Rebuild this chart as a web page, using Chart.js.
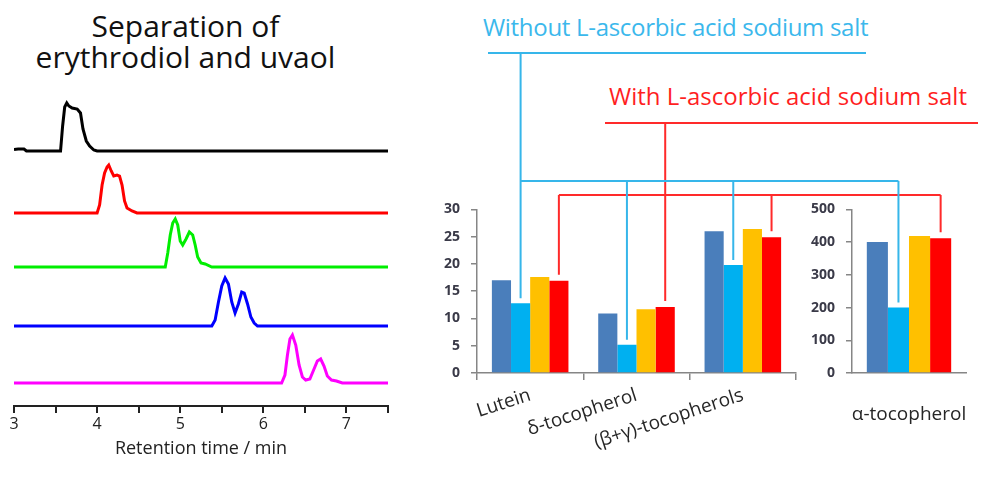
<!DOCTYPE html>
<html>
<head>
<meta charset="utf-8">
<script src="https://cdn.jsdelivr.net/npm/chart.js@4.4.1/dist/chart.umd.min.js"></script>
<style>
  body { margin: 0; background: #fff; }
  #page { position: relative; width: 981px; height: 481px; overflow: hidden; font-family: 'Open Sans', sans-serif; }
  #page canvas, #page .txt { position: absolute; }
  .txt { white-space: nowrap; }
</style>
</head>
<body>
<div id="page">
  <div class="txt" style="left:0; width:371px; top:10px; text-align:center; font-size:30px; line-height:31px; color:#111;">Separation of<br>erythrodiol and uvaol</div>
  <div class="txt" style="left:483px; top:12px; font-size:24px; line-height:30px; letter-spacing:-0.3px; color:#3bb8ec;">Without L-ascorbic acid sodium salt</div>
  <div class="txt" style="left:609px; top:81px; font-size:24px; line-height:30px; color:#ff1f1f;">With L-ascorbic acid sodium salt</div>

  <canvas id="chrom" width="400" height="376" style="left:0; top:90px;"></canvas>
  <canvas id="barsL" width="390" height="290" style="left:420px; top:190px;"></canvas>
  <canvas id="barsR" width="181" height="290" style="left:800px; top:190px;"></canvas>
  <canvas id="brackets" width="981" height="481" style="left:0; top:0;"></canvas>
</div>
<script>
// chromatograms: retention time (min) and signal above baseline, one trace per standard
var timesBlack   = [3.0, 3.05, 3.12, 3.15, 3.56, 3.585, 3.61, 3.635, 3.66, 3.70, 3.76, 3.80, 3.83, 3.87, 3.91, 3.96, 4.0, 7.5];
var signalBlack  = [1.5, 2, 2, 0, 0, 25, 44, 48, 45, 43, 42, 38, 22, 10, 5, 1, 0, 0];
var timesRed     = [3.0, 4.0, 4.03, 4.06, 4.09, 4.12, 4.14, 4.17, 4.20, 4.24, 4.27, 4.30, 4.33, 4.36, 4.42, 4.48, 7.5];
var signalRed    = [0, 0, 8, 28, 40, 46, 48, 42, 37, 38, 37, 28, 12, 5, 2, 0, 0];
var timesGreen   = [3.0, 4.82, 4.85, 4.88, 4.91, 4.94, 4.97, 5.00, 5.03, 5.07, 5.11, 5.15, 5.18, 5.21, 5.25, 5.30, 5.38, 7.5];
var signalGreen  = [0, 0, 14, 32, 44, 48, 42, 26, 22, 28, 35, 32, 22, 10, 4, 3, 0, 0];
var timesBlue    = [3.0, 5.38, 5.42, 5.46, 5.50, 5.54, 5.58, 5.62, 5.66, 5.70, 5.74, 5.77, 5.81, 5.85, 5.89, 5.93, 7.5];
var signalBlue   = [0, 0, 6, 24, 40, 48, 42, 24, 13, 22, 34, 33, 22, 9, 3, 0, 0];
var timesPink    = [3.0, 6.22, 6.26, 6.29, 6.32, 6.35, 6.39, 6.43, 6.47, 6.51, 6.56, 6.61, 6.65, 6.69, 6.73, 6.77, 6.82, 6.88, 6.95, 7.5];
var signalPink   = [0, 0, 8, 28, 44, 48, 38, 18, 6, 3, 4, 14, 22, 24, 17, 7, 3, 2, 0, 0];
var traceOffsets = [255, 193, 139, 80, 23];   // black, red, green, blue, magenta
var timeTicks    = [3, 4, 5, 6, 7];

// bar charts
var compounds    = ['Lutein', 'δ-tocopherol', '(β+γ)-tocopherols'];
var series1      = [17.0, 10.9, 26.0];
var series2      = [12.8, 5.2, 19.8];   // without L-ascorbic acid sodium salt
var series3      = [17.6, 11.7, 26.4];
var series4      = [16.9, 12.1, 24.9];  // with L-ascorbic acid sodium salt
var alphaLabel   = ['α-tocopherol'];
var alphaValues  = [400, 200, 419, 412];

var barColors = ['#4a7ebb', '#00b0f0', '#ffc000', '#ff0000'];

Chart.defaults.font.family = "'Open Sans', sans-serif";
Chart.defaults.animation = false;

function trace(times, signal, offset) {
    return times.map(function(t, i) { return { x: t, y: signal[i] + offset }; });
}

new Chart('chrom', {
    type: 'line',
    data: {
        datasets: [
            { data: trace(timesBlack, signalBlack, traceOffsets[0]), borderColor: '#000000' },
            { data: trace(timesRed, signalRed, traceOffsets[1]), borderColor: '#ff0000' },
            { data: trace(timesGreen, signalGreen, traceOffsets[2]), borderColor: '#00ee00' },
            { data: trace(timesBlue, signalBlue, traceOffsets[3]), borderColor: '#0000ff' },
            { data: trace(timesPink, signalPink, traceOffsets[4]), borderColor: '#ff00ff' }
        ]
    },
    options: {
        responsive: false,
        layout: { padding: { left: 14, right: 12, top: 0, bottom: 0 } },
        elements: { point: { radius: 0 }, line: { borderWidth: 3, tension: 0 } },
        plugins: { legend: { display: false }, tooltip: { enabled: false } },
        scales: {
            y: { display: false, min: 0, max: 316 },
            x: {
                type: 'linear', min: 3, max: 7.5,
                afterFit: function(s) { s.height = 60; },
                ticks: {
                    stepSize: 0.5, autoSkip: false, maxRotation: 0, padding: 2,
                    color: '#222', font: { size: 16 },
                    callback: function(v) { return timeTicks.indexOf(v) >= 0 ? v : ''; }
                },
                grid: { drawOnChartArea: false, tickLength: 7, color: '#222', lineWidth: 2 },
                border: { color: '#222', width: 2 },
                title: { display: true, text: 'Retention time / min', color: '#222', font: { size: 18 }, padding: { top: 2, bottom: 6 } }
            }
        }
    }
});

function barDatasets(values, catPct) {
    return values.map(function(v, i) {
        return { label: 'Series ' + (i + 1), data: v, backgroundColor: barColors[i], borderWidth: 0,
                 barPercentage: 1.0, categoryPercentage: catPct };
    });
}

var axisGray = '#868686';
var tickFont = { size: 14, weight: 'bold' };
var catFont = { size: 19 };

// keep the plot box fixed: no extra room for overhanging category labels
function fixedCategoryAxis(s) {
    s.height = 107;
    s.paddingLeft = 0;
    s.paddingRight = 0;
}

var chartL = new Chart('barsL', {
    type: 'bar',
    data: { labels: compounds, datasets: barDatasets([series1, series2, series3, series4], 0.72) },
    options: {
        responsive: false,
        layout: { padding: { left: 0, right: 14, top: 17, bottom: 0 } },
        plugins: { legend: { display: false }, tooltip: { enabled: false } },
        scales: {
            y: {
                min: 0, max: 30,
                afterFit: function(s) { s.width = 57; },
                ticks: { stepSize: 5, padding: 11, color: '#3a3a48', font: tickFont },
                grid: { drawOnChartArea: false, tickLength: 6, color: axisGray, lineWidth: 1.5 },
                border: { color: axisGray, width: 1.5 }
            },
            x: {
                afterFit: fixedCategoryAxis,
                ticks: { minRotation: 18, maxRotation: 18, padding: 4, color: '#262626', font: catFont },
                grid: { offset: true, drawOnChartArea: false, tickLength: 7, color: axisGray, lineWidth: 1.5 },
                border: { color: axisGray, width: 1.5 }
            }
        }
    }
});

var chartR = new Chart('barsR', {
    type: 'bar',
    data: {
        labels: alphaLabel,
        datasets: barDatasets([[alphaValues[0]], [alphaValues[1]], [alphaValues[2]], [alphaValues[3]]], 0.74)
    },
    options: {
        responsive: false,
        layout: { padding: { left: 0, right: 15, top: 15, bottom: 0 } },
        plugins: { legend: { display: false }, tooltip: { enabled: false } },
        scales: {
            y: {
                min: 0, max: 500,
                afterFit: function(s) { s.width = 52; },
                ticks: { stepSize: 100, padding: 11, color: '#3a3a48', font: tickFont },
                grid: { drawOnChartArea: false, tickLength: 6, color: axisGray, lineWidth: 1.5 },
                border: { color: axisGray, width: 1.5 }
            },
            x: {
                afterFit: fixedCategoryAxis,
                ticks: { maxRotation: 0, padding: 22, color: '#262626', font: catFont },
                grid: { display: false },
                border: { color: axisGray, width: 1.5 }
            }
        }
    }
});

// bracket lines linking the two groups of bars to their captions
function barTops(chart, canvasId, datasetIndex) {
    var c = document.getElementById(canvasId);
    return chart.getDatasetMeta(datasetIndex).data.map(function(bar) {
        return { x: bar.x + c.offsetLeft, y: bar.y + c.offsetTop };
    });
}

function drawBracket(ctx, color, tops, hub, captionY, captionX0, captionX1, joinY, gap) {
    ctx.strokeStyle = color;
    ctx.lineWidth = 2;
    ctx.beginPath();
    ctx.moveTo(captionX0, captionY); ctx.lineTo(captionX1, captionY);
    ctx.moveTo(tops[hub].x, captionY); ctx.lineTo(tops[hub].x, joinY);
    ctx.moveTo(tops[0].x, joinY); ctx.lineTo(tops[tops.length - 1].x, joinY);
    tops.forEach(function(t) {
        ctx.moveTo(t.x, joinY); ctx.lineTo(t.x, t.y - gap);
    });
    ctx.stroke();
}

var ctx = document.getElementById('brackets').getContext('2d');
var redTops = barTops(chartL, 'barsL', 3).concat(barTops(chartR, 'barsR', 3));
var cyanTops = barTops(chartL, 'barsL', 1).concat(barTops(chartR, 'barsR', 1));
drawBracket(ctx, '#ff2a2a', redTops, 1, 123, 605, 978, 195, 6);
drawBracket(ctx, '#36b6ea', cyanTops, 0, 53, 488, 866, 181, 5);
</script>
</body>
</html>
